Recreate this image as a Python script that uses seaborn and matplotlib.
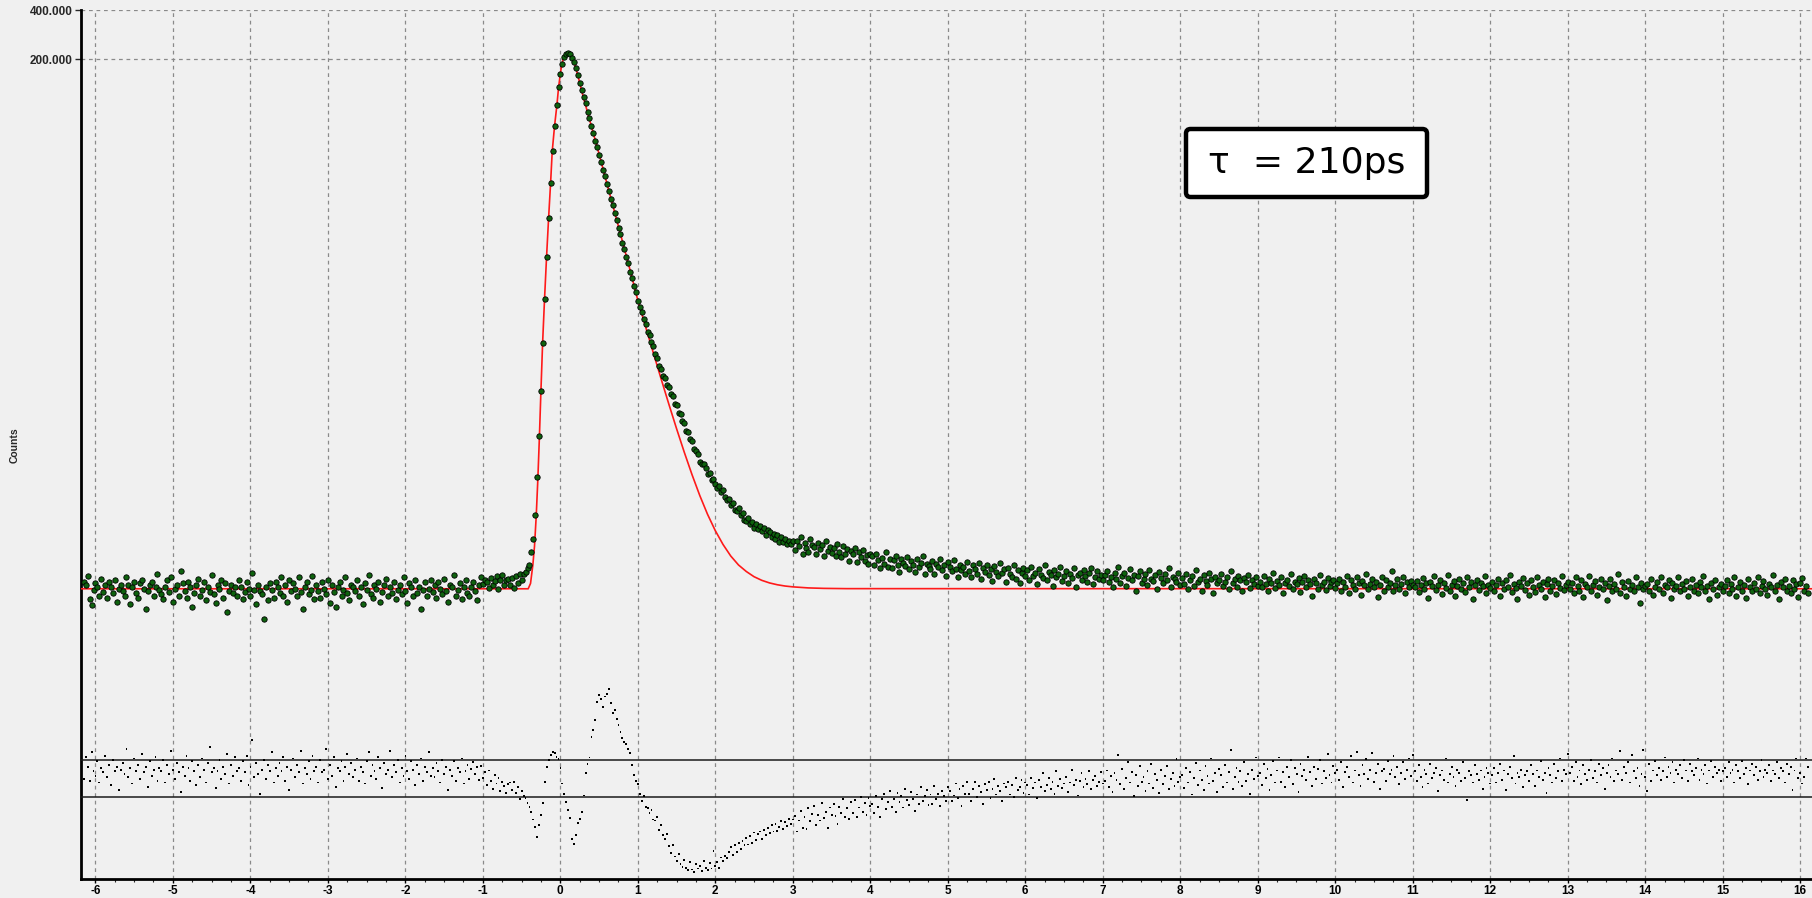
import numpy as np
import matplotlib
matplotlib.use("Agg")
import matplotlib.pyplot as plt
from matplotlib.patches import FancyBboxPatch
import seaborn as sns
from matplotlib.ticker import FixedLocator, FixedFormatter, NullLocator, MultipleLocator

# ---------------- data ----------------
channel_start = -6.148   # ns, time of first channel
channel_width = 0.025    # ns per channel

counts_baseline = [
    116, 110, 126, 91, 83, 103, 113, 108, 95, 121, 100, 111, 92, 115, 107, 99, 118, 87, 105, 111,
    102, 95, 123, 110, 84, 108, 116, 99, 92, 113, 119, 105, 78, 102, 111, 115, 94, 107, 129, 103,
    97, 91, 108, 118, 100, 124, 87, 105, 110, 95, 135, 113, 102, 92, 116, 107, 81, 99, 111, 121,
    94, 103, 115, 89, 108, 100, 127, 97, 86, 110, 105, 118, 92, 113, 75, 102, 111, 99, 107, 95,
    119, 108, 91, 100, 115, 105, 94, 131, 103, 84, 111, 102, 97, 68, 108, 89, 113, 103, 92, 116,
    107, 99, 124, 95, 110, 87, 118, 102, 113, 105, 94, 123, 100, 79, 108, 115, 97, 103, 126, 91,
    111, 102, 92, 116, 105, 97, 119, 86, 110, 100, 81, 107, 115, 95, 103, 123, 99, 89, 111, 108,
    102, 118, 94, 107, 84, 113, 103, 127, 97, 92, 110, 105, 116, 87, 100, 111, 121, 95, 107, 99,
    115, 91, 103, 110, 97, 124, 102, 86, 113, 107, 95, 118, 99, 108, 78, 103, 115, 94, 105, 119,
    100, 110, 92, 116, 105, 97, 121, 102, 87, 111, 107, 127, 95, 103, 113, 91, 108, 118, 99, 94,
    107, 115, 102, 89, 110, 124, 112, 119, 116, 106, 122, 110, 117, 126, 104, 118, 127, 111, 119, 121,
    110, 122, 106, 126, 114, 129, 118, 130, 133, 140,
]
counts_peak = [
    146, 177, 212, 300, 519, 929, 1745, 3490, 6560, 11900,
    20600, 34100, 53600, 76900, 104000, 133400, 161000, 185000, 205000, 214000,
    218000, 216000, 204000, 191000, 176000, 160000, 143000, 128100, 116900, 106400,
    94200, 85900, 76600, 69800, 62300, 56900, 50600, 46200, 41100, 37600,
    33500, 30600, 27100, 24900, 22100, 20200, 17900, 16400, 14600, 13350,
    11850, 10880, 9650, 8840, 7850, 7190, 6380,
]
counts_shoulder = [
    5790, 5420, 4880, 4560, 4090, 3890, 3510, 3330, 2970, 2810,
    2520, 2390, 2180, 2110, 1920, 1870, 1680, 1640, 1470, 1430,
    1290, 1262, 1142, 1118, 995, 978, 884, 861, 768, 752,
    712, 641, 622, 618, 584, 541, 549, 497, 503, 466,
    441, 452, 419, 427, 389, 372, 379, 346, 357, 322,
    317, 329, 298, 307, 281, 276, 289, 263, 272, 250,
    264, 246, 256, 238, 249, 226, 241, 236, 219, 230,
    214, 225, 205, 219, 203, 214, 199, 208, 197, 206,
]
counts_tail_3_6 = [
    181, 208, 192, 218, 171, 200, 187, 177, 212, 195,
    189, 171, 202, 185, 195, 167, 208, 179, 190, 174,
    187, 167, 198, 176, 164, 192, 173, 184, 156, 180,
    171, 187, 153, 177, 165, 181, 156, 169, 149, 172,
    166, 146, 173, 157, 140, 162, 150, 176, 143, 159,
    141, 157, 167, 148, 133, 160, 151, 144, 164, 138,
    155, 147, 133, 160, 142, 151, 167, 130, 149, 144,
    138, 156, 129, 150, 143, 160, 137, 147, 125, 153,
    143, 135, 157, 139, 123, 148, 136, 142, 129, 154,
    135, 123, 146, 139, 129, 151, 120, 140, 133, 148,
    128, 139, 117, 144, 133, 126, 151, 131, 138, 116,
    141, 130, 124, 147, 121, 137, 113, 132, 140, 125,
]
counts_tail_6_10 = [
    136, 118, 143, 125, 131, 112, 138, 128, 122, 146,
    119, 133, 127, 109, 137, 124, 130, 142, 117, 126,
    135, 114, 129, 122, 141, 108, 127, 132, 119, 136,
    125, 116, 131, 140, 112, 124, 134, 121, 128, 118,
    127, 135, 116, 124, 107, 132, 120, 142, 114, 126,
    131, 109, 122, 138, 118, 128, 101, 125, 134, 113,
    121, 130, 111, 137, 120, 117, 127, 105, 133, 122,
    113, 130, 119, 141, 108, 124, 120, 116, 132, 110,
    122, 112, 130, 105, 118, 125, 109, 136, 115, 121,
    102, 127, 117, 111, 132, 120, 99, 124, 114, 118,
    129, 109, 116, 123, 104, 134, 113, 120, 107, 126,
    118, 102, 122, 115, 128, 106, 119, 112, 124, 109,
    116, 107, 126, 112, 101, 120, 114, 132, 106, 117,
    110, 123, 98, 113, 119, 109, 129, 104, 116, 112,
    122, 100, 115, 125, 108, 118, 112, 94, 121, 113,
    105, 127, 111, 116, 103, 122, 109, 115, 119, 106,
]
counts_tail_10_16 = [
    113, 121, 102, 115, 108, 126, 99, 118, 111, 105,
    123, 114, 96, 117, 110, 130, 104, 112, 120, 107,
    115, 93, 111, 124, 102, 118, 108, 114, 135, 101,
    110, 120, 105, 112, 123, 98, 115, 107, 117, 111,
    107, 117, 100, 111, 122, 104, 113, 92, 116, 109,
    125, 103, 110, 119, 97, 114, 106, 128, 101, 111,
    117, 95, 109, 120, 104, 113, 100, 123, 107, 116,
    91, 110, 119, 103, 114, 109, 126, 98, 111, 106,
    115, 102, 110, 121, 94, 113, 105, 118, 108, 127,
    100, 112, 106, 90, 116, 109, 122, 103, 113, 96,
    119, 108, 100, 124, 110, 105, 115, 93, 112, 121,
    102, 109, 118, 97, 113, 106, 125, 103, 110, 116,
    105, 114, 98, 123, 109, 102, 118, 93, 112, 107,
    126, 101, 111, 117, 96, 108, 120, 104, 114, 89,
    109, 121, 102, 112, 105, 129, 98, 115, 108, 95,
    117, 105, 111, 101, 123, 107, 86, 114, 104, 109,
    112, 102, 120, 96, 108, 115, 105, 124, 99, 111,
    107, 118, 92, 114, 104, 109, 123, 101, 112, 105,
    117, 95, 108, 121, 102, 111, 98, 115, 107, 126,
    101, 109, 90, 114, 105, 118, 96, 108, 112, 102,
    109, 118, 99, 112, 105, 124, 95, 108, 115, 102,
    111, 92, 120, 107, 101, 114, 104, 123, 98, 109,
    117, 105, 96, 112, 108, 127, 101, 111, 90, 115,
    107, 121, 102, 109, 99, 118, 105, 112, 93, 114,
    122, 102, 109, 98,
]

resid_baseline = [
    0.0, 2.4, 1.3, -0.2, 2.9, 0.8, 0.3, 1.9, -0.4, 1.2, 0.7, 2.5, 0.2, 1.5, -0.7, 2.0, 0.8, 1.3, -1.2, 1.0,
    1.7, 0.5, 3.2, 0.2, 1.2, -0.5, 2.2, 0.8, 1.5, 0.0, 2.7, 0.7, 1.3, -0.9, 1.9, 0.3, 1.0, 2.4, -0.2, 1.2,
    0.8, 2.0, -0.4, 1.5, 0.5, 3.0, 1.0, 0.0, 1.7, 0.7, -1.4, 1.3, 0.3, 2.5, 1.2, -0.2, 1.9, 0.8, -0.7, 1.5,
    0.2, 2.2, 1.0, -0.4, 1.7, 3.4, 0.7, 1.2, -1.0, 0.8, 2.0, 0.0, 1.3, 0.5, 2.7, -0.5, 1.5, 0.3, 2.4, 0.8,
    1.2, -0.2, 1.9, 0.7, 2.5, -0.7, 1.3, 4.2, 0.2, 1.7, 0.5, -1.6, 1.0, 2.0, 0.0, 1.5, 0.8, 2.9, -0.4, 1.2,
    0.3, 1.7, 0.8, 2.4, -0.2, 1.3, -1.2, 1.0, 2.2, 0.2, 1.5, 0.7, 3.0, -0.5, 1.2, 0.5, 1.9, 0.0, 2.5, 0.8,
    1.3, -0.4, 2.0, 0.7, 1.0, 3.2, 0.0, 1.5, 0.3, 2.4, -0.9, 1.2, 0.8, 1.9, -0.2, 1.3, 2.7, 0.5, 1.7, 0.2,
    1.0, 2.2, -0.2, 1.3, 0.7, -0.5, 1.9, 2.9, 0.3, 1.5, 0.8, 0.0, 2.4, 1.2, -1.0, 1.7, 0.5, 1.0, 3.0, 0.2,
    1.5, 0.7, 2.0, -0.4, 1.2, 0.3, 2.5, 0.8, 0.0, 1.9, 1.0, -0.7, 1.5, 0.5, 2.2, -0.2, 1.3, 0.7, 2.9, 0.3,
    1.2, 0.2, 1.7, 0.8, -0.4, 2.0, 0.5, 1.3, -1.2, 1.0, 0.3, 1.9, -0.2, 1.2, 0.7, 2.2, -0.5, 0.8, 1.5, 0.0,
    1.1, 1.8, 0.5, 1.3, -0.1, 1.4, 0.1, 0.7, -0.7, 0.9, -0.2, -1.1, 0.4, -0.5, 0.1, -1.3, -0.3, -0.8, -1.5, -0.6,
    -0.4, -1.2, -0.3, -1.5, -0.9, -2.2, -1.3, -1.9, -2.1, -2.6,
]
resid_peak = [
    -3.0, -3.6, -4.4, -5.2, -6.3, -5.0, -3.9, -2.6, -0.3, 1.3,
    2.0, 2.6, 2.9, 2.8, 2.4, 2.1, 1.2, -0.5, -1.6, -2.5,
    -3.4, -4.2, -6.5, -7.0, -6.1, -4.8, -4.3, -3.6, -1.8, 0.6,
    1.6, 2.3, 4.5, 5.3, 6.4, 8.3, 9.1, 8.6, 7.8, 8.9,
    9.2, 9.7, 8.2, 7.1, 7.4, 6.5, 5.8, 5.1, 4.4, 4.0,
    3.8, 3.2, 2.8, 1.5, 0.4, -0.2, -0.6,
]
resid_shoulder = [
    -1.6, -2.4, -1.9, -3.0, -3.2, -3.7, -3.4, -4.4, -4.5, -4.1,
    -5.5, -5.0, -6.1, -6.5, -6.0, -7.3, -8.0, -7.2, -8.4, -8.9,
    -8.1, -9.2, -9.5, -8.8, -9.6, -9.9, -9.0, -9.8, -10.1, -9.2,
    -9.7, -9.4, -10.0, -8.9, -9.6, -9.9, -9.1, -9.7, -7.8, -9.4,
    -9.0, -9.6, -8.5, -8.9, -8.3, -8.6, -7.9, -7.4, -8.2, -7.2,
    -7.9, -6.9, -7.6, -6.7, -7.2, -6.4, -7.1, -6.2, -6.9, -5.8,
    -6.6, -6.0, -5.7, -6.5, -5.5, -6.1, -5.3, -5.9, -5.0, -5.7,
    -4.9, -5.6, -5.2, -4.6, -5.4, -4.7, -5.1, -4.3, -4.9, -4.4,
]
resid_tail_3_7 = [
    -4.0, -5.7, -4.5, -3.5, -5.3, -4.1, -5.4, -3.2, -4.6, -3.8,
    -2.9, -5.0, -3.9, -4.5, -2.6, -4.2, -3.6, -5.3, -3.1, -3.9,
    -2.7, -4.0, -4.9, -3.0, -3.7, -2.2, -4.1, -3.2, -4.3, -2.5,
    -3.7, -2.3, -4.1, -3.1, -2.0, -3.6, -2.6, -3.9, -2.1, -2.9,
    -2.7, -3.7, -1.9, -3.0, -4.1, -2.2, -1.6, -3.3, -2.5, -1.3,
    -3.0, -2.2, -3.6, -1.5, -2.5, -1.9, -3.1, -1.1, -2.3, -2.8,
    -1.4, -2.2, -3.5, -1.7, -2.7, -0.9, -2.4, -1.9, -1.2, -2.8,
    -1.7, -2.7, -0.8, -2.2, -1.6, -2.9, -1.3, -1.9, -2.4, -0.9,
    -1.3, -2.4, -1.8, -0.5, -2.1, -1.1, -2.9, -0.8, -1.6, -0.3,
    -1.6, -2.4, -1.1, -0.3, -2.0, -0.8, -1.4, -2.7, -0.6, -1.2,
    -0.3, -2.1, -1.1, 0.0, -1.7, -0.8, -1.3, -2.4, -0.5, -0.9,
    -0.3, -1.7, -0.7, -2.0, 0.1, -1.2, -0.9, -0.1, -1.5, -0.4,
    -0.7, -1.7, 0.1, -1.0, -0.4, -2.1, -0.1, -0.9, 0.6, -1.3,
    -0.7, 0.1, -1.1, -0.3, -1.6, 0.8, -0.8, 0.0, -1.0, -0.5,
    0.2, -1.4, -0.4, 1.0, -0.7, -0.1, -1.8, -0.2, 0.6, -0.9,
    0.0, -0.6, 0.8, -1.1, -0.1, 0.3, -0.8, -0.3, 0.7, -0.5,
]
resid_tail_7_11 = [
    -0.2, 0.9, -0.9, 0.3, -1.4, 0.6, -0.1, 2.6, -0.6, 1.1,
    -1.1, 0.1, 1.8, -0.4, 0.7, -1.9, 0.4, -0.8, 1.4, -0.3,
    0.2, -1.3, 0.8, -0.5, 1.6, -1.0, 0.5, -0.1, -1.5, 1.0,
    -0.6, 0.3, 1.4, -1.1, 0.0, 0.6, -0.8, 2.1, -0.3, 0.2,
    0.4, -1.0, 1.2, -0.4, 0.7, -1.7, 0.1, 1.7, -0.7, 0.9,
    -0.1, -1.2, 1.4, 0.3, -0.5, 2.2, -0.2, 0.6, -1.4, 1.1,
    0.4, -0.9, 1.5, -0.4, 0.7, 3.1, -1.1, 0.2, 1.2, -0.3,
    0.8, -0.8, 1.8, -0.2, 0.5, -1.6, 1.0, 0.0, 2.3, 0.3,
    0.6, -0.7, 1.6, 0.1, 1.1, -1.2, 0.4, 1.9, -0.4, 0.9,
    2.3, -0.3, 0.7, -0.9, 1.3, 0.2, 2.0, -0.6, 1.2, 0.5,
    -1.4, 1.6, 0.3, 1.0, -0.1, 2.4, 0.7, -0.8, 1.3, 0.0,
    1.1, 2.0, -0.5, 0.8, 0.1, 2.7, 0.4, -0.4, 1.4, 0.6,
    1.0, -0.1, 1.8, -0.9, 0.7, 1.3, 0.2, 2.5, -0.4, 0.9,
    2.9, 0.4, -0.8, 1.5, 0.5, 2.1, 0.0, 1.0, 2.8, -0.3,
    0.6, 1.6, -1.1, 0.8, 1.1, -0.2, 1.9, 0.5, 1.0, 2.5,
    0.2, 1.3, -0.6, 0.6, 1.8, 0.0, 1.0, 2.2, 0.3, 2.6,
]
resid_tail_11_16 = [
    0.8, -0.2, 1.5, 0.2, -0.9, 1.0, 0.5, -0.5, 1.6, 0.1,
    0.6, 1.2, -1.3, 0.4, 0.9, -0.1, 2.2, -0.4, 0.5, 1.3,
    0.2, -0.8, 1.0, 0.6, -0.2, 1.8, 0.1, -2.3, 0.8, 0.4,
    -0.4, 1.5, 0.5, -0.1, 0.9, -1.1, 0.2, 1.2, 0.6, -0.5,
    0.4, 1.2, -0.4, 0.6, 1.6, -0.1, 0.9, -1.2, 0.5, 1.3,
    0.1, 2.5, -0.5, 0.6, 0.2, 1.0, -0.9, 0.4, 0.8, -0.2,
    1.5, 0.5, -0.8, 0.9, 0.2, 1.9, -0.1, 0.6, -1.5, 1.2,
    0.4, -0.4, 1.6, 0.1, 0.8, 2.2, -0.2, 1.0, 0.5, 2.7,
    0.6, 1.3, -0.2, 1.8, 0.2, 0.9, -0.6, 1.5, 0.5, -0.1,
    1.0, 2.0, 0.1, 0.8, -0.4, 1.6, 0.4, 1.2, -1.1, 0.6,
    1.5, 0.2, 2.2, -0.2, 0.9, 0.5, 3.0, -0.1, 1.3, 0.6,
    1.8, -0.4, 2.6, 0.8, 0.1, 1.2, -0.8, 0.5, 3.1, 0.2,
    -1.3, 1.6, -0.2, 0.9, 1.9, 0.4, 1.2, -0.1, 0.8, 2.3,
    0.2, 1.3, 0.6, 1.8, -0.4, 1.0, 0.5, 1.5, 0.1, 2.0,
    0.9, -0.2, 1.6, 0.8, 0.4, 1.2, 2.2, -0.1, 1.0, 0.5,
    1.5, -0.5, 0.9, 1.9, 0.2, 1.3, 0.6, 1.0, -0.2, 0.8,
    1.2, 0.2, 1.8, 0.6, 1.0, -0.4, 1.5, 0.8, 0.1, 1.9,
    0.5, 1.2, -0.6, 0.9, 1.6, 0.4, 1.3, -0.1, 0.8, 2.0,
    0.2, 1.0, 0.6, 1.5, -0.2, 0.9, 0.5, 1.8, 0.1, 1.2,
    0.8, -0.4, 1.6, 0.5, 1.3, -1.2, 0.9, 2.2, 0.1, 0.6,
    -0.5, 0.2, 2.2, 1.3,
]

# fitted curve (tau = 210 ps) read at its knots
fit_time = [-6.2, -0.414, -0.384, -0.354, -0.333, -0.311, -0.290, -0.27, -0.25, -0.228,
            -0.203, -0.177, -0.151, -0.125, -0.104, -0.074, -0.043, -0.022, 0.0, 0.017,
            0.043, 0.069, 0.095, 0.12, 0.155, 0.2, 0.3, 0.4, 0.5, 0.6,
            0.75, 0.9, 1.0, 1.1, 1.2, 1.3, 1.4, 1.5, 1.6, 1.7,
            1.8, 1.9, 2.0, 2.1, 2.2, 2.3, 2.4, 2.5, 2.6, 2.7,
            2.8, 2.9, 3.0, 3.2, 3.4, 3.7, 16.2]
fit_counts = [104.7, 104.7, 113.0, 147.0, 191.3, 292, 493, 897, 1746, 3491,
              6561, 11904, 20577, 34152, 53589, 76840, 104240, 133448, 161030, 182440,
              204190, 212860, 217330, 215820, 204190, 177450, 114870, 77100, 51760, 34150,
              18420, 9880, 6428, 4409, 3035, 2099, 1462, 1029, 734, 533,
              396, 303, 240, 197, 167, 147, 134, 124.4, 118.1, 113.8,
              110.9, 108.9, 107.6, 106.0, 105.3, 104.9, 104.7]

tau_label = "τ  = 210ps"
x_ticks = list(range(-6, 17))
x_tick_labels = [str(v) for v in x_ticks]
y_ticks = [200000, 400000]
y_tick_labels = ["200.000", "400.000"]
resid_band = [-2, 2]

# ---------------- assemble ----------------
counts = np.array(counts_baseline + counts_peak + counts_shoulder
                  + counts_tail_3_6 + counts_tail_6_10 + counts_tail_10_16, dtype=float)
resid = np.array(resid_baseline + resid_peak + resid_shoulder
                 + resid_tail_3_7 + resid_tail_7_11 + resid_tail_11_16, dtype=float)
t_counts = channel_start + channel_width * np.arange(len(counts))
t_resid = channel_start + channel_width * np.arange(len(resid))

# ---------------- plot ----------------
sns.set_style("ticks")
plt.rcParams["font.family"] = ["Liberation Sans", "DejaVu Sans"]
bg = "#f0f0f0"
W, H = 1812, 898

fig = plt.figure(figsize=(W / 100, H / 100), dpi=100, facecolor=bg)
ax = fig.add_axes([81 / W, 1 - 879 / H, (W - 81) / W, (879 - 10.4) / H])
ax.set_facecolor(bg)
ax.set_yscale("log")

sns.lineplot(x=fit_time, y=fit_counts, ax=ax, color="#ff1a1a", linewidth=1.2,
             sort=False, estimator=None, zorder=3)
sns.scatterplot(x=t_counts, y=counts, ax=ax, marker="o", s=15, color="#0e620e",
                edgecolor="black", linewidth=0.6, zorder=4, legend=False)

ax.set_xlim(-6.185, 16.153)
ax.set_ylim(1.669, 400000)

ax.xaxis.set_major_locator(FixedLocator(x_ticks))
ax.xaxis.set_major_formatter(FixedFormatter(x_tick_labels))
ax.xaxis.set_minor_locator(MultipleLocator(0.25))
ax.yaxis.set_major_locator(FixedLocator(y_ticks))
ax.yaxis.set_major_formatter(FixedFormatter(y_tick_labels))
ax.yaxis.set_minor_locator(NullLocator())

ax.tick_params(axis="x", which="major", length=3, width=1, direction="out", pad=1.5,
               labelsize=8.5, colors="black")
ax.tick_params(axis="x", which="minor", length=2, width=0.8, direction="out")
ax.tick_params(axis="y", which="major", length=4, width=1, direction="out", pad=2,
               labelsize=8.5)
for lbl in ax.get_xticklabels() + ax.get_yticklabels():
    lbl.set_fontweight("bold")

ax.grid(True, which="major", axis="both", linestyle=(0, (3, 3)), color="#8a8a8a", linewidth=0.9)
ax.set_axisbelow(True)

for side in ["top", "right"]:
    ax.spines[side].set_visible(False)
for side in ["left", "bottom"]:
    ax.spines[side].set_linewidth(2.0)
    ax.spines[side].set_color("black")

ax.set_xlabel("")
ax.set_ylabel("Counts", fontsize=7.5, fontweight="bold")
ax.yaxis.set_label_coords((20 - 81) / (W - 81), 0.5)

# residuals on an overlay axis
ax2 = ax.twinx()
sns.scatterplot(x=t_resid, y=resid, ax=ax2, marker="s", s=1.8, color="black",
                edgecolor="none", linewidth=0, zorder=4, legend=False)
for level in resid_band:
    ax2.axhline(level, color="#1a1a1a", linewidth=1.1, zorder=3)
ax2.set_ylim(-10.83, 83.07)
ax2.set_xlim(-6.185, 16.153)
ax2.set_yticks([])
ax2.set_ylabel("")
for side in ["top", "right", "left", "bottom"]:
    ax2.spines[side].set_visible(False)
ax2.tick_params(right=False, labelright=False)

# annotation box (figure pixel geometry of the reference)
box_x0, box_x1, box_y0, box_y1 = 1186, 1427, 129, 197
box = FancyBboxPatch((box_x0 / W, 1 - box_y1 / H), (box_x1 - box_x0) / W, (box_y1 - box_y0) / H,
                     boxstyle="round,pad=0,rounding_size=0.0025", mutation_aspect=W / H,
                     transform=fig.transFigure, facecolor="white", edgecolor="black",
                     linewidth=3.2, zorder=20)
fig.patches.append(box)
fig.text((box_x0 + box_x1) / 2 / W, 1 - (box_y0 + box_y1) / 2 / H, tau_label,
         ha="center", va="center", fontsize=26, family="DejaVu Sans", color="black", zorder=21)

fig.savefig("out.png", dpi=100, facecolor=bg)
